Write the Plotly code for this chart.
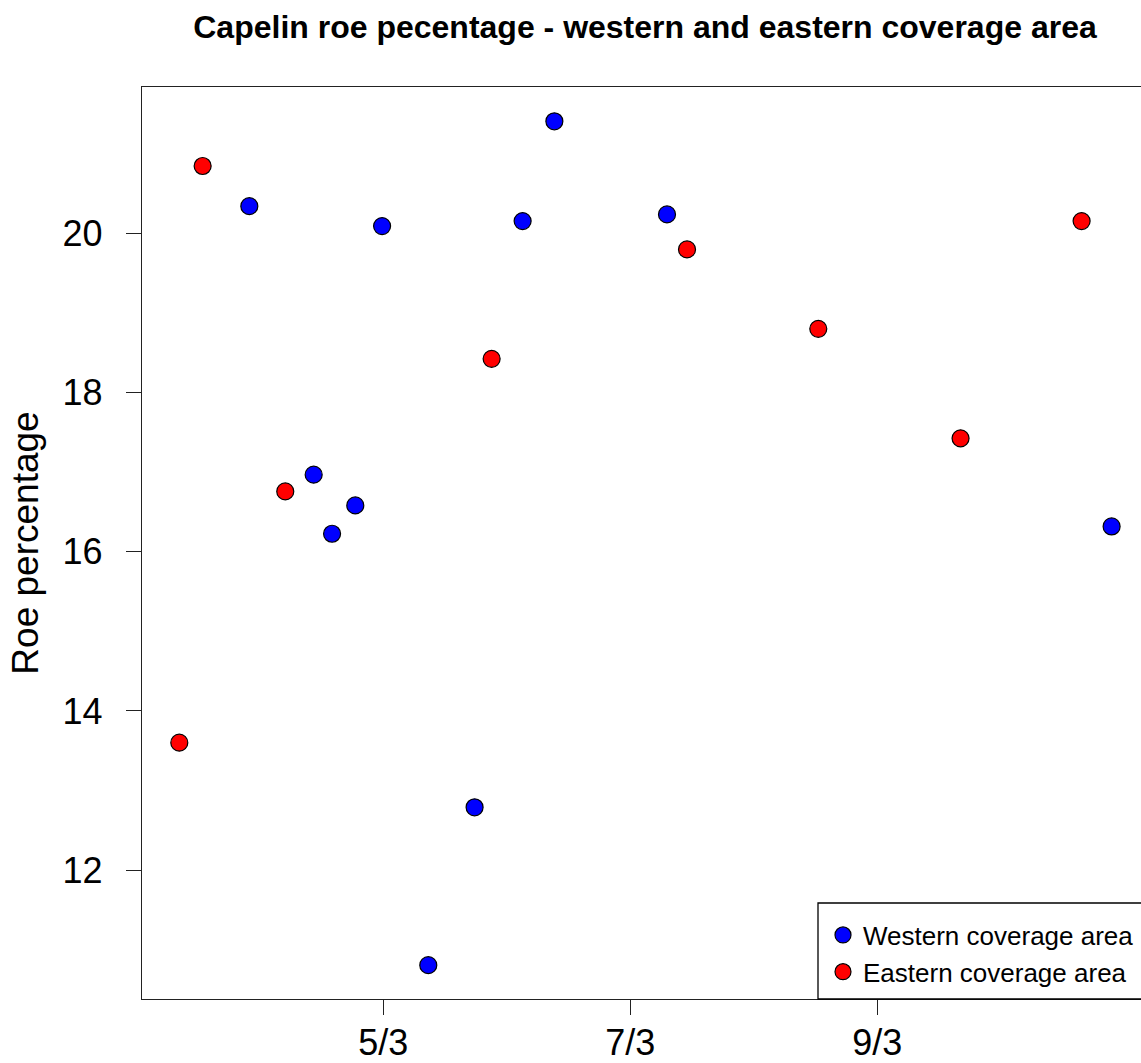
import plotly.graph_objects as go

# Day in March (x) and roe percentage (y)
west_day = [3.915, 4.436, 4.585, 4.773, 4.99, 5.364, 5.739, 6.128, 6.385, 7.297, 10.897]
west_roe = [20.343, 16.969, 16.226, 16.582, 20.092, 10.805, 12.789, 20.155, 21.409, 20.239, 16.318]

east_day = [3.348, 3.537, 4.206, 5.877, 7.459, 8.522, 9.674, 10.654]
east_roe = [13.601, 20.847, 16.758, 18.424, 19.799, 18.801, 17.425, 20.155]

x_tickvals = [5, 7, 9]
x_ticktext = ["5/3", "7/3", "9/3"]
y_tickvals = [12, 14, 16, 18, 20]

W, H = 1141, 1063
ML, MR, MT, MB = 142, 0, 87, 64
FONT = "Liberation Sans, Arial, sans-serif"

fig = go.Figure()
fig.add_trace(go.Scatter(
    x=west_day, y=west_roe, mode="markers", name="Western coverage area",
    marker=dict(size=17, color="#0000FF", line=dict(color="black", width=1.2)),
))
fig.add_trace(go.Scatter(
    x=east_day, y=east_roe, mode="markers", name="Eastern coverage area",
    marker=dict(size=17, color="#FF0000", line=dict(color="black", width=1.2)),
))

pw = W - ML - MR
ph = H - MT - MB

def px_x(p):
    return (p - ML) / pw

def px_y(p):
    return (H - MB - p) / ph

# legend box (extends past the right edge like the original)
fig.add_shape(type="rect", xref="paper", yref="paper",
              x0=px_x(818), x1=px_x(1152), y0=0, y1=px_y(903),
              line=dict(color="black", width=1.3), fillcolor="white", layer="above")

fig.update_layout(
    width=W, height=H,
    margin=dict(l=ML, r=MR, t=MT, b=MB, autoexpand=False),
    plot_bgcolor="white", paper_bgcolor="white",
    font=dict(family=FONT, color="black"),
    title=dict(text="<b>Capelin roe pecentage - western and eastern coverage area</b>",
               font=dict(size=32, family=FONT, color="black"),
               xref="paper", x=px_x(645), xanchor="center",
               yref="container", y=1 - 27 / H, yanchor="middle"),
    xaxis=dict(range=[3.046, 11.135], tickvals=x_tickvals, ticktext=x_ticktext,
               showgrid=False, zeroline=False, showline=True, mirror=True,
               linecolor="#222", linewidth=1.3, ticks="outside", ticklen=15,
               tickcolor="#222", tickwidth=1.3, ticklabelstandoff=-3,
               tickfont=dict(size=36, family=FONT, color="black")),
    yaxis=dict(range=[10.38, 21.84], tickvals=y_tickvals,
               showgrid=False, zeroline=False, showline=True, mirror=False,
               linecolor="#222", linewidth=1.3, ticks="outside", ticklen=15,
               tickcolor="#222", tickwidth=1.3, ticklabelstandoff=16,
               tickfont=dict(size=36, family=FONT, color="black"),
               title=dict(text="Roe percentage", standoff=12,
                          font=dict(size=37, family=FONT, color="black"))),
    showlegend=True,
    legend=dict(x=px_x(823), xanchor="left", y=px_y(953.5), yanchor="middle",
                bgcolor="rgba(0,0,0,0)", borderwidth=0,
                font=dict(size=26, family=FONT, color="black"),
                itemsizing="trace"),
)

fig.write_html("out.html")
